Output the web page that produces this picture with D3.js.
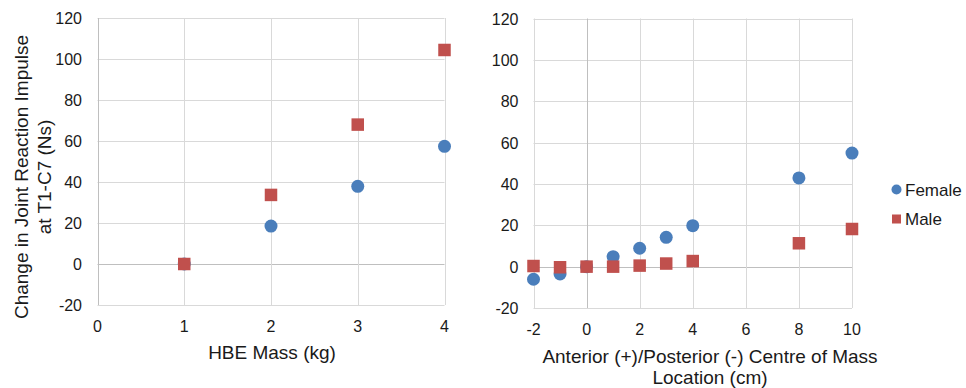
<!DOCTYPE html>
<html>
<head>
<meta charset="utf-8">
<script src="https://cdn.jsdelivr.net/npm/d3@7"></script>
<style>
  body { margin: 0; background: #fff; }
  svg { font-family: "Liberation Sans", Arial, sans-serif; }
</style>
</head>
<body>
<div id="chart"></div>
<script>
// left panel: HBE mass
const massX = [1, 2, 3, 4];
const massFemale = [0, 18.5, 37.9, 57.4];
const massMale = [0, 33.7, 68, 104.4];
const massTicks = [0, 1, 2, 3, 4];

// right panel: centre of mass location
const comX = [-2, -1, 0, 1, 2, 3, 4, 8, 10];
const comFemale = [-6.1, -3.5, 0, 4.8, 8.9, 14.2, 19.8, 42.9, 54.9];
const comMale = [0.3, -0.3, 0, 0, 0.5, 1.5, 2.7, 11.3, 18.2];
const comTicks = [-2, 0, 2, 4, 6, 8, 10];

const yTicks = [-20, 0, 20, 40, 60, 80, 100, 120];
const seriesNames = ['Female', 'Male'];
const colors = { Female: '#4a7ebb', Male: '#c0504d' };

const W = 966, H = 388;
const svg = d3.select('#chart').append('svg')
  .attr('width', W).attr('height', H);

function panel(opts) {
  const x = d3.scaleLinear().domain(opts.xDomain).range(opts.xRange);
  const y = d3.scaleLinear().domain([-20, 120]).range(opts.yRange);
  const g = svg.append('g');

  // gridlines
  g.selectAll('.hgrid').data(yTicks).enter().append('line')
    .attr('x1', opts.xRange[0]).attr('x2', opts.xRange[1])
    .attr('y1', d => Math.round(y(d)) + 0.5).attr('y2', d => Math.round(y(d)) + 0.5)
    .attr('stroke', d => d === 0 ? '#bfbfbf' : '#d9d9d9').attr('stroke-width', 1);
  g.selectAll('.vgrid').data(opts.xTicks).enter().append('line')
    .attr('x1', d => Math.round(x(d)) + 0.5).attr('x2', d => Math.round(x(d)) + 0.5)
    .attr('y1', opts.yRange[1]).attr('y2', opts.yRange[0])
    .attr('stroke', d => d === 0 ? '#bfbfbf' : '#d9d9d9').attr('stroke-width', 1);

  // tick labels
  g.selectAll('.ylab').data(yTicks).enter().append('text')
    .attr('x', opts.yLabelX).attr('y', d => y(d) + 6)
    .attr('text-anchor', 'end').attr('font-size', 16).attr('fill', '#1a1a1a')
    .text(d => d);
  g.selectAll('.xlab').data(opts.xTicks).enter().append('text')
    .attr('x', d => x(d)).attr('y', opts.xLabelY)
    .attr('text-anchor', 'middle').attr('font-size', 16).attr('fill', '#1a1a1a')
    .text(d => d);

  // points: female circles then male squares on top
  g.selectAll('.f').data(opts.xs).enter().append('circle')
    .attr('cx', d => x(d)).attr('cy', (d, i) => y(opts.female[i]))
    .attr('r', 6.5).attr('fill', colors.Female);
  const s = 12.5;
  g.selectAll('.m').data(opts.xs).enter().append('rect')
    .attr('x', d => x(d) - s / 2).attr('y', (d, i) => y(opts.male[i]) - s / 2)
    .attr('width', s).attr('height', s).attr('fill', colors.Male);

  // x title
  const t = g.append('text').attr('text-anchor', 'middle')
    .attr('font-size', 19).attr('fill', '#1a1a1a');
  opts.xTitle.forEach((line, i) => {
    t.append('tspan').attr('x', opts.xTitleX).attr('y', opts.xTitleY + i * 21).text(line);
  });
  return g;
}

panel({
  xDomain: [0, 4], xRange: [97.5, 444.5], yRange: [305, 18],
  xTicks: massTicks, xs: massX, female: massFemale, male: massMale,
  yLabelX: 82, xLabelY: 332,
  xTitle: ['HBE Mass (kg)'], xTitleX: 272, xTitleY: 359
});

panel({
  xDomain: [-2, 10], xRange: [533.5, 852], yRange: [308, 18.5],
  xTicks: comTicks, xs: comX, female: comFemale, male: comMale,
  yLabelX: 518.5, xLabelY: 335,
  xTitle: ['Anterior (+)/Posterior (-) Centre of Mass', 'Location (cm)'], xTitleX: 710, xTitleY: 363
});

// y axis title (left panel)
const yt = svg.append('text')
  .attr('transform', 'translate(0,177) rotate(-90)')
  .attr('text-anchor', 'middle').attr('font-size', 19).attr('fill', '#1a1a1a');
yt.append('tspan').attr('x', 0).attr('y', 28).text('Change in Joint Reaction Impulse');
yt.append('tspan').attr('x', 0).attr('y', 51).text('at T1-C7 (Ns)');

// legend
const legend = svg.append('g');
seriesNames.forEach((name, i) => {
  const cy = 189.5 + i * 29.5;
  if (name === 'Female') {
    legend.append('circle').attr('cx', 896.5).attr('cy', cy).attr('r', 5).attr('fill', colors[name]);
  } else {
    legend.append('rect').attr('x', 892).attr('y', cy - 4.5).attr('width', 9).attr('height', 9).attr('fill', colors[name]);
  }
  legend.append('text').attr('x', 905).attr('y', cy + 6)
    .attr('font-size', 17).attr('fill', '#1a1a1a').text(name);
});
</script>
</body>
</html>
